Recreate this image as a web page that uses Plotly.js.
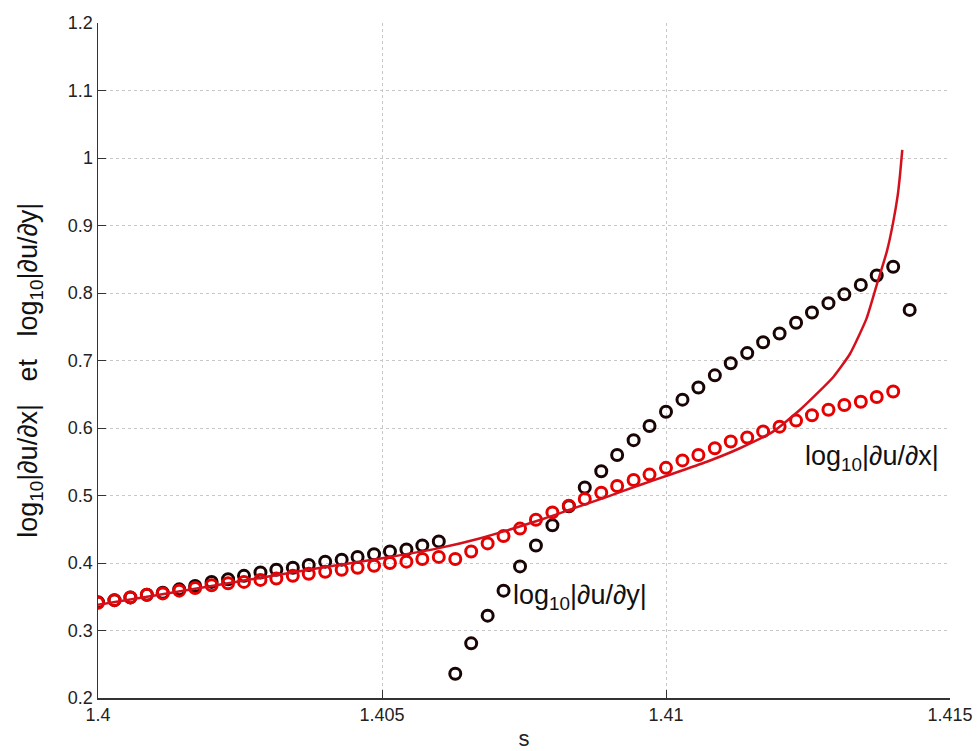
<!DOCTYPE html>
<html><head><meta charset="utf-8">
<script src="https://cdn.plot.ly/plotly-3.0.1.min.js"></script>
<style>html,body{margin:0;padding:0;background:#fff}#chart{width:980px;height:751px}</style>
</head><body><div id="chart"></div>
<script>
const sPts = [1.40000,1.40029,1.40057,1.40086,1.40114,1.40143,1.40171,1.40200,1.40229,1.40257,
1.40286,1.40314,1.40343,1.40371,1.40400,1.40429,1.40457,1.40486,1.40514,1.40543,
1.40571,1.40600,1.40629,1.40657,1.40686,1.40714,1.40743,1.40771,1.40800,1.40829,
1.40857,1.40886,1.40914,1.40943,1.40971,1.41000,1.41029,1.41057,1.41086,1.41114,
1.41143,1.41171,1.41200,1.41229,1.41257,1.41286,1.41314,1.41343,1.41371,1.41400,1.41429];
const dudy = [0.342,0.345,0.349,0.353,0.356,0.361,0.366,0.372,0.376,0.381,0.386,0.390,0.393,0.397,0.402,0.405,0.409,0.413,0.417,0.420,0.426,0.432,
0.236,0.281,0.322,0.359,0.395,0.426,0.456,0.484,0.512,0.536,0.560,0.582,0.603,0.624,0.642,0.660,0.678,0.696,0.711,0.727,0.740,0.756,0.771,0.785,0.798,0.812,0.826,0.839,0.775];
const dudx = [0.341,0.345,0.349,0.353,0.355,0.359,0.363,0.367,0.370,0.372,0.375,0.377,0.381,0.384,0.387,0.390,0.393,0.396,0.400,0.402,0.406,0.409,
0.406,0.417,0.429,0.440,0.451,0.464,0.475,0.485,0.495,0.504,0.514,0.523,0.531,0.541,0.552,0.560,0.570,0.580,0.586,0.595,0.602,0.611,0.619,0.627,0.634,0.639,0.646,0.654];
const sCurve = [1.4000,1.4010,1.4020,1.4030,1.4040,1.4050,1.4060,1.4067,1.40778,1.40837,1.40896,1.40954,1.41004,1.41072,1.41130,1.41189,1.41236,1.41295,1.41324,1.41353,1.41371,1.41389,1.41400,1.41408,1.41412,1.41416];
const vCurve = [0.338,0.352,0.366,0.380,0.394,0.407,0.422,0.436,0.4637,0.481,0.498,0.5156,0.530,0.550,0.570,0.595,0.627,0.676,0.710,0.762,0.812,0.862,0.905,0.945,0.975,1.012];
const xTicks = [1.4,1.405,1.41,1.415];
const xTickText = ['1.4','1.405','1.41','1.415'];
const yTicks = [0.2,0.3,0.4,0.5,0.6,0.7,0.8,0.9,1,1.1,1.2];
const yTickText = ['0.2','0.3','0.4','0.5','0.6','0.7','0.8','0.9','1','1.1','1.2'];

const font = 'Liberation Sans, Arial, sans-serif';
const nb = '\u00A0';
const traces = [
 {x: sPts, y: dudy, mode:'markers', type:'scatter',
  marker:{symbol:'circle-open', size:11, color:'#1a0505', line:{width:3, color:'#1a0505'}}},
 {x: sPts.slice(0, dudx.length), y: dudx, mode:'markers', type:'scatter',
  marker:{symbol:'circle-open', size:11, color:'#e60000', line:{width:3, color:'#e60000'}}},
 {x: sCurve, y: vCurve, mode:'lines', type:'scatter', line:{color:'#d4101c', width:2.5, shape:'spline', smoothing:0.5}}
];
const layout = {
 width:980, height:751, showlegend:false,
 paper_bgcolor:'#fff', plot_bgcolor:'#fff',
 margin:{l:98, r:30, t:23, b:53},
 font:{family:font, size:18, color:'#222'},
 xaxis:{range:[1.4,1.415], tickvals:xTicks, ticktext:xTickText, ticks:'inside', ticklen:8, tickcolor:'#333',
   showline:true, linecolor:'#333', linewidth:1.5, mirror:false, zeroline:false,
   showgrid:true, gridcolor:'#c8c8c8', griddash:'dot', gridwidth:1,
   tickfont:{size:18, color:'#222'},
   title:{text:'s', font:{size:22, color:'#222'}, standoff:6}},
 yaxis:{range:[0.2,1.2], tickvals:yTicks, ticktext:yTickText, ticks:'inside', ticklen:8, tickcolor:'#333',
   showline:true, linecolor:'#333', linewidth:1.5, mirror:false, zeroline:false,
   showgrid:true, gridcolor:'#c8c8c8', griddash:'dot', gridwidth:1,
   tickfont:{size:18, color:'#222'}},
 annotations:[
  {x:-0.08, y:0.486, xref:'paper', yref:'paper', textangle:-90, xanchor:'center', yanchor:'middle', showarrow:false,
   text:'log<sub>10</sub>|∂u/∂x|'+nb+nb+nb+'et'+nb+nb+nb+'log<sub>10</sub>|∂u/∂y|', font:{size:27, color:'#111', family:font}},
  {x:1.41363, y:0.555, xref:'x', yref:'y', text:'log<sub>10</sub>|∂u/∂x|', showarrow:false, font:{size:27, color:'#111', family:font}},
  {x:1.40727, y:0.350, xref:'x', yref:'y', xanchor:'left', text:'log<sub>10</sub>|∂u/∂y|', showarrow:false, font:{size:27, color:'#111', family:font}}
 ]
};
Plotly.newPlot('chart', traces, layout, {displayModeBar:false, staticPlot:true});
</script></body></html>
